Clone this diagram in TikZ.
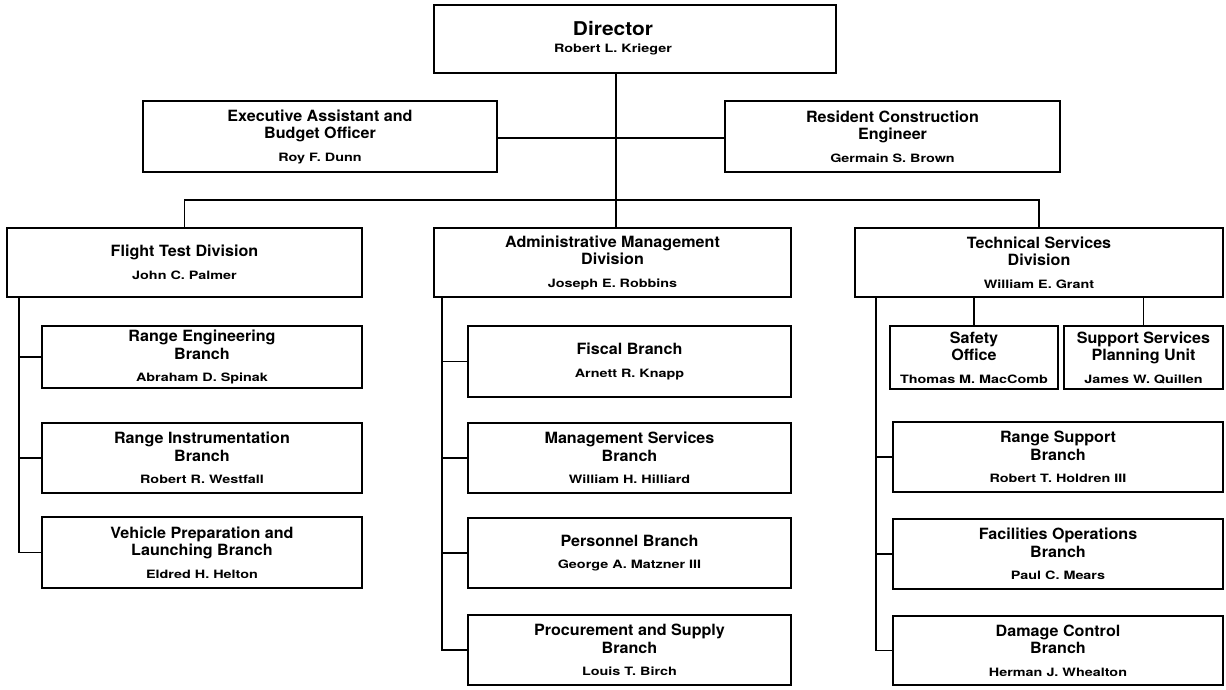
\documentclass[tikz,border=0pt]{standalone}
\usepackage{fontspec}
\setmainfont{TeX Gyre Heros}
\newfontfamily\orgttlfam[FakeStretch=1.04]{TeX Gyre Heros}
\newfontfamily\orgnmfam[FakeStretch=1.25]{TeX Gyre Heros}
\newfontfamily\orgdirfam[FakeStretch=1.1]{TeX Gyre Heros}
\newcommand\orgttl{\orgttlfam\bfseries\fontsize{15.5}{17.5}\selectfont}
\newcommand\orgnm{\orgnmfam\bfseries\fontsize{11.5}{17.5}\selectfont}
\newcommand\orgbox[6]{\node[orgbox,minimum width={#4-#2},minimum height={#5-#3}] (#1) at ({(#2+#4)/2},{(#3+#5)/2}) {#6};}
\tikzset{
  orgbox/.style={draw, line width=1.7pt, inner sep=0pt, align=center, fill=white, font=\orgttl},
  conn/.style={line width=1.7pt},
  dirtext/.style={inner sep=0pt, align=center, font=\orgdirfam\bfseries\fontsize{19}{16}\selectfont}
}
\begin{document}
\begin{tikzpicture}[x=1pt,y=-1pt]
\useasboundingbox[fill=white] (0,0) rectangle (1226,690);
\coordinate (hub) at (616,138);
\coordinate (bar) at (616,200);
\coordinate (ftr) at (19,297);
\coordinate (atr) at (442,297);
\coordinate (ttr) at (876,297);
% boxes
\orgbox{dir}{434}{5}{836}{73}{}
\node[dirtext] (dirlbl) at (613,38) {Director\\[1pt]\orgnm Robert L. Krieger};
\orgbox{exec}{143}{101}{497}{172}{Executive Assistant and\\Budget Officer\\[5pt]\orgnm Roy F. Dunn}
\orgbox{res}{725}{101}{1060}{172}{Resident Construction\\Engineer\\[5pt]\orgnm Germain S. Brown}
\orgbox{flight}{7}{228}{362}{297}{Flight Test Division\\[5pt]\orgnm John C. Palmer}
\orgbox{admin}{434}{228}{791}{297}{Administrative Management\\Division\\[5pt]\orgnm Joseph E. Robbins}
\orgbox{tech}{855}{228}{1223}{297}{Technical Services\\Division\\[5pt]\orgnm William E. Grant}
\orgbox{reng}{42}{326}{362}{388}{Range Engineering\\Branch\\[5pt]\orgnm Abraham D. Spinak}
\orgbox{rinst}{42}{423}{362}{493}{Range Instrumentation\\Branch\\[5pt]\orgnm Robert R. Westfall}
\orgbox{veh}{42}{517}{362}{588}{Vehicle Preparation and\\Launching Branch\\[5pt]\orgnm Eldred H. Helton}
\orgbox{fiscal}{468}{326}{791}{397}{Fiscal Branch\\[5pt]\orgnm Arnett R. Knapp}
\orgbox{mgmt}{468}{423}{791}{493}{Management Services\\Branch\\[5pt]\orgnm William H. Hilliard}
\orgbox{pers}{468}{518}{791}{588}{Personnel Branch\\[5pt]\orgnm George A. Matzner III}
\orgbox{proc}{468}{615}{791}{685}{Procurement and Supply\\Branch\\[5pt]\orgnm Louis T. Birch}
\orgbox{safety}{890}{326}{1058}{389}{Safety\\Office\\[5pt]\orgnm Thomas M. MacComb}
\orgbox{support}{1064}{326}{1223}{389}{Support Services\\Planning Unit\\[5pt]\orgnm James W. Quillen}
\orgbox{rsup}{893}{422}{1223}{492}{Range Support\\Branch\\[5pt]\orgnm Robert T. Holdren III}
\orgbox{fac}{893}{519}{1223}{589}{Facilities Operations\\Branch\\[5pt]\orgnm Paul C. Mears}
\orgbox{dmg}{893}{616}{1223}{685}{Damage Control\\Branch\\[5pt]\orgnm Herman J. Whealton}
% connectors
\draw[conn] (dir.south -| bar) -- (bar);
\draw[conn] (exec.east |- hub) -- (res.west |- hub);
\draw[conn] (flight.north) |- (bar) -| (tech.north);
\draw[conn] (bar) -- (bar |- admin.north);
\draw[conn] (ftr) |- (reng.west);
\draw[conn] (ftr) |- (rinst.west);
\draw[conn] (ftr) |- (veh.west);
\draw[conn] (atr) |- (fiscal.west);
\draw[conn] (atr) |- (mgmt.west);
\draw[conn] (atr) |- (pers.west);
\draw[conn] (atr) |- (proc.west);
\draw[conn] (safety.north) -- (safety.north |- tech.south);
\draw[conn] (support.north) -- (support.north |- tech.south);
\draw[conn] (ttr) |- (rsup.west);
\draw[conn] (ttr) |- (fac.west);
\draw[conn] (ttr) |- (dmg.west);
\end{tikzpicture}
\end{document}
